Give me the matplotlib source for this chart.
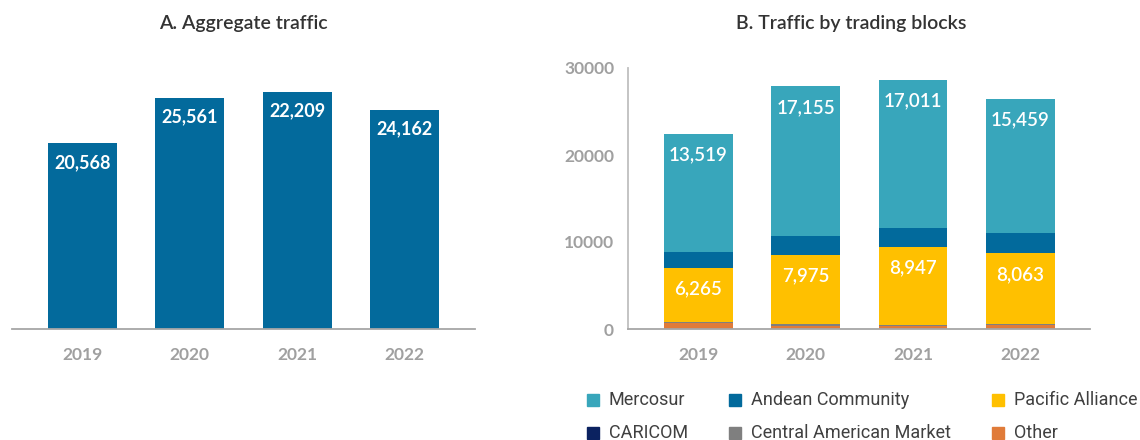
import matplotlib
matplotlib.use("Agg")
import matplotlib.pyplot as plt
import numpy as np

# ---- data ----
years = ["2019", "2020", "2021", "2022"]
other = [650, 340, 340, 490]
central_american = [100, 230, 150, 120]
caricom = [15, 15, 15, 15]
pacific = [6265, 7975, 8947, 8063]
andean = [1840, 2180, 2180, 2300]
mercosur = [13519, 17155, 17011, 15459]
aggregate_labels = ["20,568", "25,561", "22,209", "24,162"]
yticks_b = [0, 10000, 20000, 30000]

series = [
    ("Other", other, "#E07B39"),
    ("Central American Market", central_american, "#7F7F7F"),
    ("CARICOM", caricom, "#0B2260"),
    ("Pacific Alliance", pacific, "#FFC000"),
    ("Andean Community", andean, "#026A9C"),
    ("Mercosur", mercosur, "#38A6BB"),
]

plt.rcParams['font.family'] = ['Lato', 'DejaVu Sans']

W, H = 1140, 440
fig = plt.figure(figsize=(W / 100, H / 100), dpi=100)

def ax_rect(x0, x1, ytop, ybot):
    return [x0 / W, 1 - ybot / H, (x1 - x0) / W, (ybot - ytop) / H]

x = np.arange(len(years))
bw = 0.643
px_per_unit = 261 / 30000.0  # panel B scale (pixels per value)

# ---------- Panel A ----------
axA = fig.add_axes(ax_rect(12, 475, 68, 329))
totals = np.sum([s[1] for s in series], axis=0)
axA.bar(x, totals, width=bw, color="#036A9C")
axA.set_xlim(-0.657, 3.658)
axA.set_ylim(0, 31500)
scaleA = 261 / 31500.0
for xi, t, lab in zip(x, totals, aggregate_labels):
    axA.text(xi, t - 19 / scaleA, lab, ha="center", va="center", color="white",
             fontsize=13, fontweight="bold")
for sp in ["top", "right", "left"]:
    axA.spines[sp].set_visible(False)
axA.spines["bottom"].set_color("#A6A6A6")
axA.spines["bottom"].set_linewidth(1.3)
axA.set_yticks([])
axA.set_xticks(x)
axA.set_xticklabels(years, color="#A0A0A0", fontsize=12.5, fontweight="bold")
axA.tick_params(axis="x", length=0, pad=13)
fig.text(243 / W, 1 - 23 / H, "A. Aggregate traffic", ha="center", va="center",
         fontsize=14, color="#333333", fontweight="semibold")

# ---------- Panel B ----------
axB = fig.add_axes(ax_rect(628, 1090, 68, 329))
bottom = np.zeros(len(years))
for name, vals, col in series:
    vals = np.array(vals, dtype=float)
    axB.bar(x, vals, width=bw, bottom=bottom, color=col, label=name)
    if name in ("Pacific Alliance", "Mercosur"):
        for xi, b, v in zip(x, bottom, vals):
            axB.text(xi, b + v - 21 / px_per_unit, f"{int(v):,}", ha="center",
                     va="center", color="white", fontsize=13.5, fontweight="semibold")
    bottom += vals
axB.set_xlim(-0.657, 3.65)
axB.set_ylim(0, 30000)
axB.set_yticks(yticks_b)
axB.set_yticklabels([str(v) for v in yticks_b], color="#A0A0A0", fontsize=12.5,
                    fontweight="bold")
axB.set_xticks(x)
axB.set_xticklabels(years, color="#A0A0A0", fontsize=12.5, fontweight="bold")
axB.tick_params(axis="x", length=0, pad=13)
axB.tick_params(axis="y", length=0, pad=10)
for sp in ["top", "right"]:
    axB.spines[sp].set_visible(False)
axB.spines["left"].set_color("#BFBFBF")
axB.spines["left"].set_linewidth(1.3)
axB.spines["bottom"].set_color("#A6A6A6")
axB.spines["bottom"].set_linewidth(1.3)
fig.text(851 / W, 1 - 23 / H, "B. Traffic by trading blocks", ha="center",
         va="center", fontsize=14, color="#333333", fontweight="semibold")

# ---------- Legend ----------
legend_order = ["Mercosur", "Andean Community", "Pacific Alliance",
                "CARICOM", "Central American Market", "Other"]
colmap = {n: c for n, _, c in series}
leg_x = [587, 729, 992]
leg_y = [400, 433]
for i, name in enumerate(legend_order):
    r, c = divmod(i, 3)
    xs, ys = leg_x[c], leg_y[r]
    fig.patches.append(plt.Rectangle((xs / W, 1 - (ys + 6) / H), 12 / W, 12 / H,
                                     transform=fig.transFigure, color=colmap[name]))
    fig.text((xs + 22) / W, 1 - ys / H, name, ha="left", va="center",
             fontsize=13, color="#404040", family=["Roboto", "DejaVu Sans"])

fig.savefig("out.png", dpi=100)
